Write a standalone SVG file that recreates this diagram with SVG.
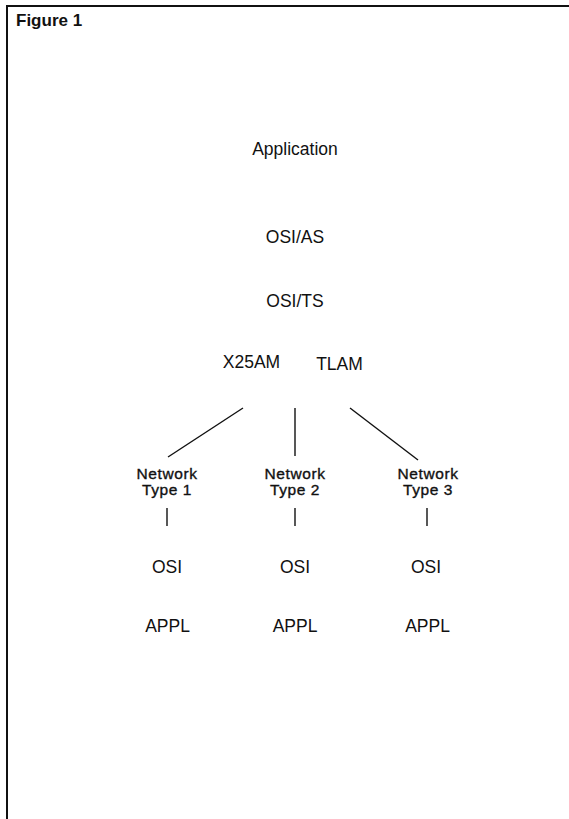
<svg xmlns="http://www.w3.org/2000/svg" width="569" height="819" viewBox="0 0 569 819">
  <style>
    .frame { stroke: #111; stroke-width: 2; fill: none; }
    .title { font-family: "Liberation Sans", Arial, sans-serif; font-size: 17px; font-weight: bold; fill: #111; }
    .lbl { font-family: "Liberation Sans", Arial, sans-serif; font-size: 17.5px; fill: #111; text-anchor: middle; }
    .net { font-family: "Liberation Sans", Arial, sans-serif; font-size: 15.5px; letter-spacing: 0.6px; fill: #111; stroke: #111; stroke-width: 0.35; text-anchor: middle; }
    .conn line { stroke: #111; stroke-width: 1.4; }
  </style>
  <rect width="569" height="819" fill="#fff"/>
  <!-- figure frame: top and left rules -->
  <line class="frame" x1="7" y1="6" x2="569" y2="6"/>
  <line class="frame" x1="7" y1="5" x2="7" y2="819"/>
  <text class="title" x="16" y="26">Figure 1</text>

  <g id="application"><text class="lbl" x="295" y="155">Application</text></g>
  <g id="osi-as"><text class="lbl" x="295" y="243">OSI/AS</text></g>
  <g id="osi-ts"><text class="lbl" x="295" y="307">OSI/TS</text></g>
  <g id="x25am"><text class="lbl" x="251.5" y="368">X25AM</text></g>
  <g id="tlam"><text class="lbl" x="339.5" y="370">TLAM</text></g>

  <g id="net1">
    <text class="net" x="167" y="479">Network</text>
    <text class="net" x="167" y="495">Type 1</text>
  </g>
  <g id="net2">
    <text class="net" x="295" y="479">Network</text>
    <text class="net" x="295" y="495">Type 2</text>
  </g>
  <g id="net3">
    <text class="net" x="428" y="479">Network</text>
    <text class="net" x="428" y="495">Type 3</text>
  </g>

  <g id="osi1"><text class="lbl" x="167" y="573">OSI</text></g>
  <g id="osi2"><text class="lbl" x="295" y="573">OSI</text></g>
  <g id="osi3"><text class="lbl" x="426" y="573">OSI</text></g>
  <g id="appl1"><text class="lbl" x="167.5" y="632">APPL</text></g>
  <g id="appl2"><text class="lbl" x="295" y="632">APPL</text></g>
  <g id="appl3"><text class="lbl" x="427.5" y="632">APPL</text></g>

  <g id="connectors" class="conn">
    <line x1="243" y1="408" x2="168" y2="457"/>
    <line x1="295" y1="408" x2="295" y2="456"/>
    <line x1="350" y1="408" x2="418" y2="460"/>
    <line x1="167" y1="508" x2="167" y2="526"/>
    <line x1="295" y1="508" x2="295" y2="526"/>
    <line x1="427" y1="508" x2="427" y2="526"/>
  </g>
</svg>
